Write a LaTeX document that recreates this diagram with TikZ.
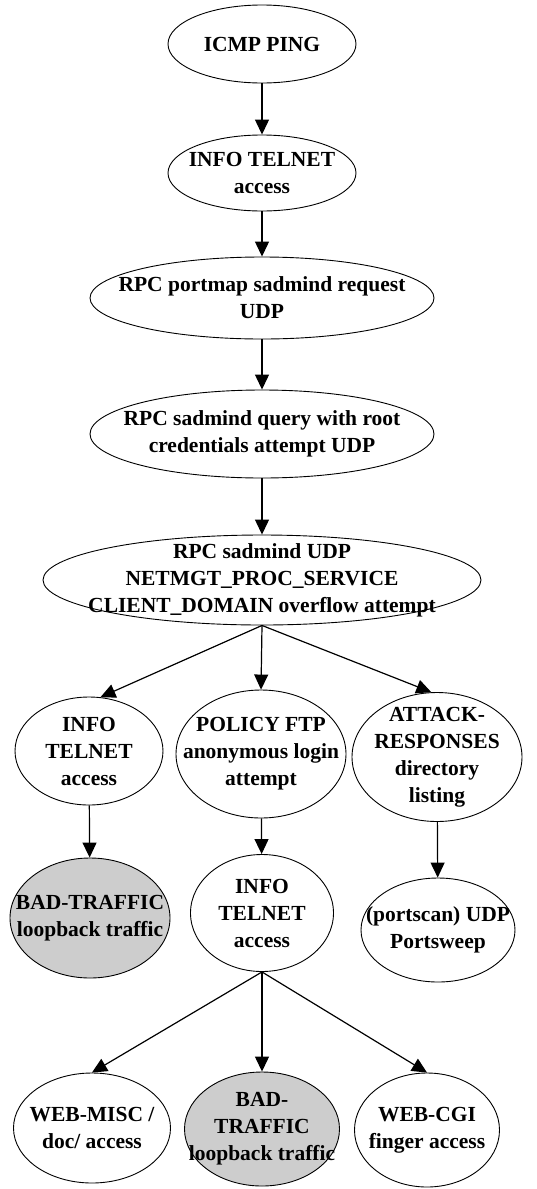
\documentclass[tikz,border=0pt]{standalone}
\usepackage{fontspec}
\setmainfont{Liberation Serif}
\usetikzlibrary{arrows.meta,shapes.geometric}
\definecolor{fillgray}{RGB}{205,205,205}
\begin{document}
\begin{tikzpicture}[x=1pt,y=-1pt,
  ell/.style={draw, ellipse, line width=0.9pt, inner sep=0pt},
  grayell/.style={ell, fill=fillgray},
  lbl/.style={font=\bfseries\fontsize{21.5}{27}\selectfont, align=center, inner sep=0pt},
  arr/.style={-{Triangle[length=15pt,width=14pt]}, line width=1.2pt}]
\useasboundingbox (0,0) rectangle (537,1189);
% level 1-5
\node[ell, minimum width=188pt, minimum height=78pt] (n1) at (262,44) {};
\node[lbl] (t1) at (n1) {ICMP PING};
\node[ell, minimum width=188pt, minimum height=76pt] (n2) at (262,173) {};
\node[lbl] (t2) at (n2) {INFO TELNET\\access};
\node[ell, minimum width=344pt, minimum height=82pt] (n3) at (262,298) {};
\node[lbl] (t3) at (n3) {RPC portmap sadmind request\\UDP};
\node[ell, minimum width=344pt, minimum height=88pt] (n4) at (262,434) {};
\node[lbl] (t4) at (n4) {RPC sadmind query with root\\credentials attempt UDP};
\node[ell, minimum width=438pt, minimum height=90pt] (n5) at (262,580) {};
\node[lbl] (t5) at (n5) {RPC sadmind UDP\\NETMGT\_PROC\_SERVICE\\CLIENT\_DOMAIN overflow attempt};
% level 6
\node[ell, minimum width=148pt, minimum height=108pt] (n6a) at (89,751) {};
\node[lbl] (t6a) at (n6a) {INFO\\TELNET\\access};
\node[ell, minimum width=170pt, minimum height=128pt] (n6b) at (261,754) {};
\node[lbl] (t6b) at (n6b) {POLICY FTP\\anonymous login\\attempt};
\node[ell, minimum width=170pt, minimum height=129pt] (n6c) at (437,757) {};
\node[lbl] (t6c) at (n6c) {ATTACK-\\RESPONSES\\directory\\listing};
% level 7
\node[grayell, minimum width=160pt, minimum height=120pt] (n7a) at (90,918) {};
\node[lbl] (t7a) at (n7a) {BAD-TRAFFIC\\loopback traffic};
\node[ell, minimum width=143pt, minimum height=117pt] (n7b) at (262,913) {};
\node[lbl] (t7b) at (n7b) {INFO\\TELNET\\access};
\node[ell, minimum width=154pt, minimum height=104pt] (n7c) at (438,930) {};
\node[lbl] (t7c) at (n7c) {(portscan) UDP\\Portsweep};
% level 8
\node[ell, minimum width=157pt, minimum height=110pt] (n8a) at (92,1128) {};
\node[lbl] (t8a) at (n8a) {WEB-MISC /\\doc/ access};
\node[grayell, minimum width=155pt, minimum height=114pt] (n8b) at (262,1129) {};
\node[lbl] (t8b) at (n8b) {BAD-\\TRAFFIC\\loopback traffic};
\node[ell, minimum width=145pt, minimum height=114pt] (n8c) at (427,1130) {};
\node[lbl] (t8c) at (n8c) {WEB-CGI\\finger access};
% edges
\draw[arr] (n1) -- (n2);
\draw[arr] (n2) -- (n3);
\draw[arr] (n3) -- (n4);
\draw[arr] (n4) -- (n5);
\draw[arr] (n5.south) -- (n6a.78);
\draw[arr] (n5.south) -- (n6b.north);
\draw[arr] (n5.south) -- (n6c.95);
\draw[arr] (n6a) -- (n7a);
\draw[arr] (n6b) -- (n7b);
\draw[arr] (n6c) -- (n7c);
\draw[arr] (n7b.south) -- (n8a.north);
\draw[arr] (n7b.south) -- (n8b.north);
\draw[arr] (n7b.south) -- (n8c.north);
\end{tikzpicture}
\end{document}
